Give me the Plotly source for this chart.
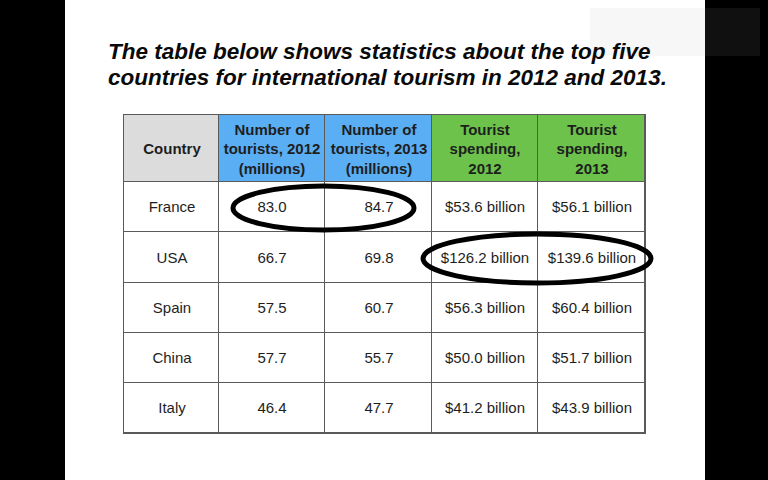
import plotly.graph_objects as go

W, H = 768, 480

headers = ["Country", "Number of<br>tourists, 2012<br>(millions)",
           "Number of<br>tourists, 2013<br>(millions)",
           "Tourist<br>spending,<br>2012", "Tourist<br>spending,<br>2013"]
countries = ["France", "USA", "Spain", "China", "Italy"]
tourists_2012 = [83.0, 66.7, 57.5, 57.7, 46.4]
tourists_2013 = [84.7, 69.8, 60.7, 55.7, 47.7]
spending_2012 = [53.6, 126.2, 56.3, 50.0, 41.2]
spending_2013 = [56.1, 139.6, 60.4, 51.7, 43.9]

# fill class per header cell: 1 grey, 2 blue, 3 green (body = 0, white)
header_class = [1, 2, 2, 3, 3]

# table geometry (pixel units, axis spans the whole page)
col_edges = [124, 219, 325, 432, 538, 645]
row_edges = [115, 182, 232, 283, 333, 383, 433]

text = [["<b>%s</b>" % h for h in headers]]
z = [header_class]
for i, c in enumerate(countries):
    text.append([c, "%.1f" % tourists_2012[i], "%.1f" % tourists_2013[i],
                 "$%.1f billion" % spending_2012[i], "$%.1f billion" % spending_2013[i]])
    z.append([0, 0, 0, 0, 0])

colorscale = [[0, "#ffffff"], [0.25, "#ffffff"],
              [0.25, "#dcdcdc"], [0.5, "#dcdcdc"],
              [0.5, "#5aaef4"], [0.75, "#5aaef4"],
              [0.75, "#6cc24a"], [1, "#6cc24a"]]

fig = go.Figure(go.Heatmap(
    x=col_edges, y=row_edges, z=z, text=text, texttemplate="%{text}",
    textfont=dict(family="Liberation Sans, Arial", size=15, color="#1e1e1e"),
    colorscale=colorscale, zmin=-0.5, zmax=3.5, showscale=False,
    xgap=1, ygap=1, hoverinfo="skip",
))

# white slide on black background
fig.add_shape(type="rect", x0=65, x1=705, y0=0, y1=H,
              fillcolor="white", line_width=0, layer="below")
# grid lines colour behind the cells
fig.add_shape(type="rect", x0=col_edges[0] - 1, x1=col_edges[-1] + 1,
              y0=row_edges[0] - 1, y1=row_edges[-1] + 1,
              fillcolor="#5a5a5a", line_width=0, layer="below")

# highlight ellipses
fig.add_shape(type="circle", x0=233, x1=414, y0=186, y1=230,
              line=dict(color="black", width=5))
fig.add_shape(type="circle", x0=423, x1=651, y0=234, y1=283,
              line=dict(color="black", width=5))

title_font = dict(family="Liberation Sans, Arial", size=22.5, color="#0a0a0a")
fig.add_annotation(text="<b><i>The table below shows statistics about the top five</i></b>",
                   x=106, y=51, xanchor="left", yanchor="middle",
                   showarrow=False, font=title_font)
fig.add_annotation(text="<b><i>countries for international tourism in 2012 and 2013.</i></b>",
                   x=106, y=77, xanchor="left", yanchor="middle",
                   showarrow=False, font=title_font)

# blurry overlay in the top right corner
fig.add_shape(type="rect", x0=590, x1=705, y0=8, y1=56,
              fillcolor="rgba(247,247,247,0.96)", line_width=0)
fig.add_shape(type="rect", x0=705, x1=760, y0=8, y1=56,
              fillcolor="rgba(18,18,18,0.9)", line_width=0)

fig.update_xaxes(range=[0, W], visible=False, fixedrange=True)
fig.update_yaxes(range=[H, 0], visible=False, fixedrange=True)
fig.update_layout(width=W, height=H, margin=dict(l=0, r=0, t=0, b=0),
                  paper_bgcolor="black", plot_bgcolor="black")
fig.write_html("out.html", config={"displayModeBar": False},
               post_script="document.body.style.margin='0';"
                           "document.body.style.background='black';")
